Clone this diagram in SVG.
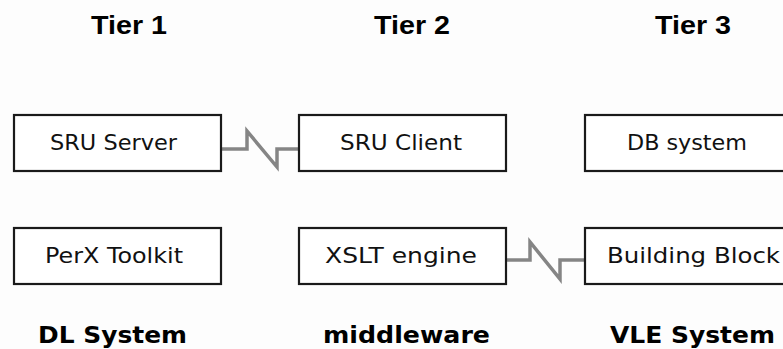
<svg xmlns="http://www.w3.org/2000/svg" width="783" height="349" viewBox="0 0 783 349">
<style>
.bg{fill:#fdfdfd}
.box{fill:#ffffff;stroke:#1a1a1a;stroke-width:2.2}
.lbl{font-family:"DejaVu Sans","Liberation Sans",sans-serif;font-size:21px;fill:#111}
.tier{font-family:"Liberation Sans",Arial,sans-serif;font-weight:bold;font-size:26px;fill:#000}
.sys{font-family:"DejaVu Sans","Liberation Sans",sans-serif;font-weight:bold;font-size:23px;fill:#000}
.conn{fill:none;stroke:#858585;stroke-width:3.5;stroke-linejoin:miter}
</style>
<rect class="bg" x="0" y="0" width="783" height="349"/>
<g id="tiers">
<text class="tier" x="91" y="34" textLength="76" lengthAdjust="spacingAndGlyphs">Tier 1</text>
<text class="tier" x="374" y="34" textLength="76" lengthAdjust="spacingAndGlyphs">Tier 2</text>
<text class="tier" x="655" y="34" textLength="76" lengthAdjust="spacingAndGlyphs">Tier 3</text>
</g>
<g id="connectors">
<path class="conn" d="M222,149 H247 V131 L277,167 V149 H298"/>
<path class="conn" d="M506,260 H530 V242 L560,279 V260 H584"/>
</g>
<g id="sru-server">
<rect class="box" x="14" y="115" width="207" height="56"/>
<text class="lbl" x="50" y="150" textLength="127" lengthAdjust="spacingAndGlyphs">SRU Server</text>
</g>
<g id="sru-client">
<rect class="box" x="299" y="115" width="207" height="56"/>
<text class="lbl" x="340" y="150" textLength="122" lengthAdjust="spacingAndGlyphs">SRU Client</text>
</g>
<g id="db-system">
<rect class="box" x="585" y="115" width="210" height="56"/>
<text class="lbl" x="627" y="150" textLength="120" lengthAdjust="spacingAndGlyphs">DB system</text>
</g>
<g id="perx-toolkit">
<rect class="box" x="14" y="228" width="207" height="56"/>
<text class="lbl" x="45" y="263" textLength="138" lengthAdjust="spacingAndGlyphs">PerX Toolkit</text>
</g>
<g id="xslt-engine">
<rect class="box" x="299" y="228" width="207" height="56"/>
<text class="lbl" x="325" y="263" textLength="152" lengthAdjust="spacingAndGlyphs">XSLT engine</text>
</g>
<g id="building-block">
<rect class="box" x="585" y="228" width="210" height="56"/>
<text class="lbl" x="607" y="263" textLength="173" lengthAdjust="spacingAndGlyphs">Building Block</text>
</g>
<g id="systems">
<text class="sys" x="38" y="343" textLength="149" lengthAdjust="spacingAndGlyphs">DL System</text>
<text class="sys" x="323" y="343" textLength="167" lengthAdjust="spacingAndGlyphs">middleware</text>
<text class="sys" x="610" y="343" textLength="165" lengthAdjust="spacingAndGlyphs">VLE System</text>
</g>
</svg>
